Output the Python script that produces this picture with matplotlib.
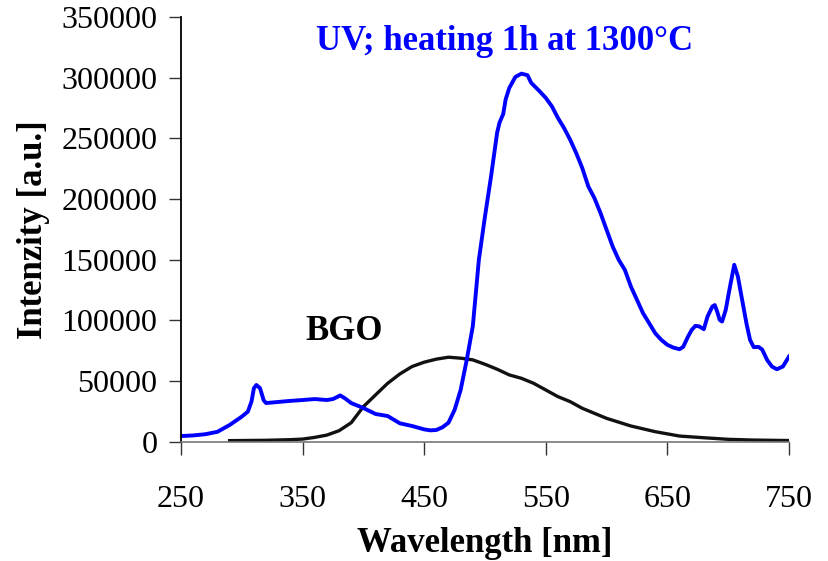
import matplotlib
matplotlib.use("Agg")
import matplotlib.pyplot as plt
import numpy as np

# UV excited emission after heating 1h at 1300 C
uv_wl = np.array([250, 260, 270, 280, 290, 300, 305, 308, 310, 312, 315, 318, 320, 330, 340,
                  350, 360, 370, 375, 378, 381, 385, 390, 400, 410, 420, 430, 440, 450, 455,
                  460, 465, 470, 475, 480, 485, 490, 495, 500, 505, 510, 512, 515, 517, 520,
                  525, 530, 535, 538, 545, 550, 555, 560, 565, 570, 575, 580, 585, 590, 595,
                  600, 605, 610, 615, 620, 625, 630, 635, 640, 645, 650, 655, 660, 663, 667,
                  670, 673, 676, 680, 683, 687, 689, 691, 693, 695, 698, 701, 705, 708, 712,
                  715, 718, 721, 725, 728, 732, 736, 740, 745, 750])
uv_int = np.array([4500, 5000, 6000, 8000, 13600, 20500, 24600, 33000, 44000, 46600, 44000, 34000,
                   31700, 32600, 33500, 34200, 35000, 34200, 35000, 36500, 38000, 35500, 31700,
                   27600, 22700, 21000, 15000, 12800, 10000, 9200, 9500, 11700, 15500, 26000,
                   42500, 67300, 95000, 150000, 185500, 218600, 254600, 263000, 270000, 282000,
                   291500, 300600, 303300, 302000, 295700, 288700, 283300, 276400, 266800,
                   258500, 248900, 237900, 225500, 210300, 200700, 188400, 174600, 160800,
                   149800, 141600, 127800, 116800, 105800, 97600, 89300, 83800, 79700, 77400,
                   76100, 78000, 86500, 92000, 95300, 95000, 92600, 103000, 111300, 112500,
                   107000, 100300, 98900, 108500, 125000, 145700, 136000, 114000, 97600, 83800,
                   77800, 78000, 75800, 67300, 61800, 59600, 61800, 70000])

# BGO reference spectrum
bgo_wl = np.array([290, 300, 320, 340, 350, 360, 370, 380, 390, 400, 410, 420, 430, 440, 450,
                   460, 470, 480, 490, 500, 510, 520, 530, 540, 550, 560, 570, 580, 600, 620,
                   640, 660, 680, 700, 720, 750])
bgo_int = np.array([700, 800, 1000, 1500, 2000, 3400, 5300, 8900, 15500, 28700, 38400, 48000,
                    55700, 61800, 65400, 67900, 69500, 68700, 67300, 63700, 59600, 54900, 52100,
                    48000, 42500, 37000, 32900, 27400, 19100, 12800, 8100, 4500, 3100, 1800,
                    1200, 800])

xticks = [250, 350, 450, 550, 650, 750]
yticks = np.arange(0, 350001, 50000)

plt.rcParams['font.family'] = ['Liberation Serif', 'DejaVu Serif']

fig = plt.figure(figsize=(8.29, 5.61), dpi=100)
ax = fig.add_axes([0.2183, 0.213, 0.7334, 0.7567])

ax.plot(bgo_wl, bgo_int, color='#111111', lw=2.4)
ax.plot(uv_wl, uv_int, color='#0000ff', lw=2.8)

ax.set_xlim(250, 750)
ax.set_ylim(0, 350000)
ax.set_xticks(xticks)
ax.set_yticks(yticks)
ax.tick_params(labelsize=23, length=9, width=1, direction='out', color='#333333')
ax.tick_params(axis='x', pad=22)
ax.tick_params(axis='y', pad=8)

for s in ['top', 'right']:
    ax.spines[s].set_visible(False)
ax.spines['left'].set_linewidth(1.3)
ax.spines['bottom'].set_color('#777777')
ax.spines['bottom'].set_linewidth(1.2)

ax.set_xlabel('Wavelength [nm]', fontsize=25, fontweight='bold', labelpad=10)
ax.set_ylabel('Intenzity [a.u.]', fontsize=25, fontweight='bold', labelpad=8)

ax.text(516, 329500, 'UV; heating 1h at 1300°C', color='#0000ff', fontsize=25,
        fontweight='bold', ha='center', va='center')
ax.text(384, 91000, 'BGO', color='black', fontsize=25, fontweight='bold',
        ha='center', va='center')

fig.savefig('out.png', dpi=100)
